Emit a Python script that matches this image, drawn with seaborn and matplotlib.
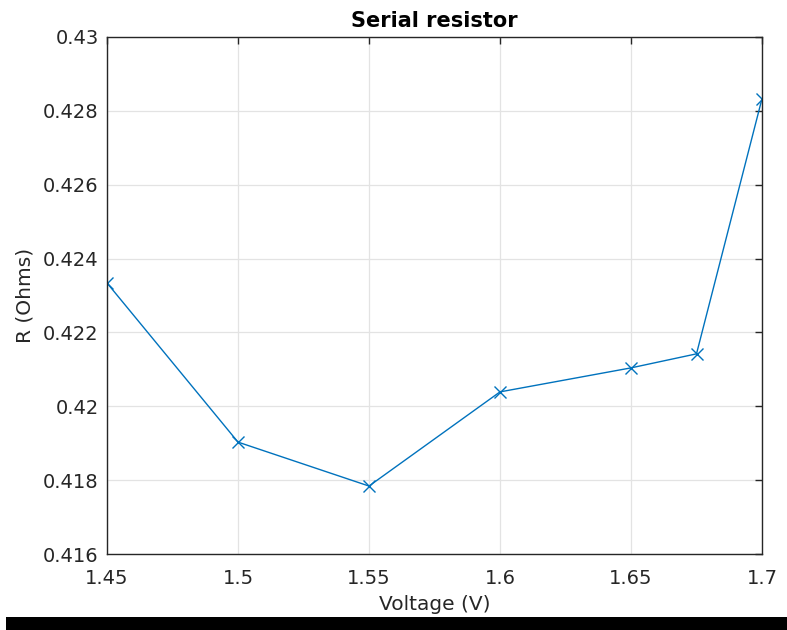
import matplotlib
matplotlib.use("Agg")
import matplotlib.pyplot as plt
import seaborn as sns
import pandas as pd
from matplotlib.patches import Rectangle

voltage = [1.45, 1.5, 1.55, 1.6, 1.65, 1.675, 1.7]
resistance = [0.42334, 0.41903, 0.41784, 0.42039, 0.42104, 0.42142, 0.42833]
xticks = [1.45, 1.5, 1.55, 1.6, 1.65, 1.7]
xticklabels = ["1.45", "1.5", "1.55", "1.6", "1.65", "1.7"]
yticks = [0.416, 0.418, 0.42, 0.422, 0.424, 0.426, 0.428, 0.43]
yticklabels = ["0.416", "0.418", "0.42", "0.422", "0.424", "0.426", "0.428", "0.43"]

sns.set_style("white")
plt.rcParams['font.family'] = ['DejaVu Sans']

df = pd.DataFrame({"V": voltage, "R": resistance})

fig = plt.figure(figsize=(7.87, 6.30), dpi=100)
ax = fig.add_axes([107/787, 76/630, 655/787, 517/630])
sns.lineplot(data=df, x="V", y="R", ax=ax, color="#0072BD", linewidth=1.0,
             marker="x", markersize=8, markeredgewidth=1.0, markeredgecolor="#0072BD")

ax.set_xlim(1.45, 1.7)
ax.set_ylim(0.416, 0.43)
ax.set_xticks(xticks)
ax.set_xticklabels(xticklabels)
ax.set_yticks(yticks)
ax.set_yticklabels(yticklabels)
ax.grid(True, color="#e3e3e3", linewidth=0.9)
ax.set_axisbelow(True)
for s in ax.spines.values():
    s.set_visible(True)
    s.set_color("#262626")
    s.set_linewidth(1.0)
ax.tick_params(direction="in", length=5, width=1.0, color="#262626",
               top=True, right=True, labelsize=14, labelcolor="#262626")
ax.tick_params(axis="x", pad=11)
ax.tick_params(axis="y", pad=6)
ax.set_xlabel("Voltage (V)", fontsize=14.5, color="#262626", labelpad=5)
ax.set_ylabel("R (Ohms)", fontsize=14.5, color="#262626", labelpad=6)
ax.set_title("Serial resistor", fontsize=15, fontweight="bold", color="black", pad=7)

fig.patches.append(Rectangle((6/787, 0), 781/787, 13/630, transform=fig.transFigure,
                             facecolor="black", edgecolor="none"))

fig.savefig("out.png", dpi=100)
